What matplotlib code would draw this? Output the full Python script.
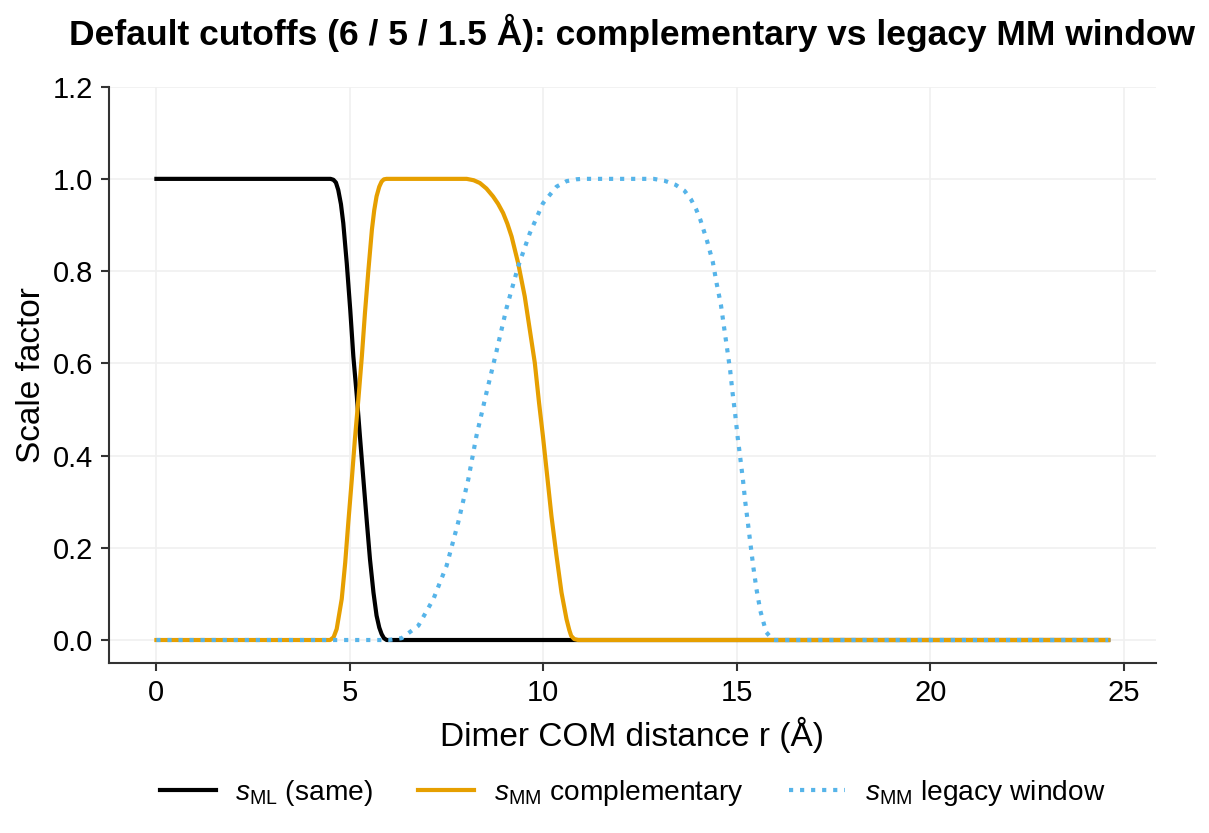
import matplotlib
matplotlib.use("Agg")
import matplotlib.pyplot as plt

plt.rcParams["font.family"] = ["Liberation Sans", "DejaVu Sans"]
plt.rcParams["mathtext.fontset"] = "custom"
plt.rcParams["mathtext.rm"] = "Liberation Sans"
plt.rcParams["mathtext.it"] = "Liberation Sans:italic"

# s_ML (same in both schemes)
r_ml = [0.0, 4.5, 4.575, 4.64, 4.70, 4.77, 4.83, 4.92, 5.01, 5.09, 5.18, 5.26, 5.35, 5.44,
        5.52, 5.61, 5.69, 5.76, 5.82, 5.88, 5.95, 24.6]
s_ml = [1.0, 1.0, 0.998, 0.992, 0.976, 0.945, 0.904, 0.817, 0.716, 0.615, 0.529, 0.442, 0.348, 0.255,
        0.175, 0.103, 0.053, 0.027, 0.013, 0.004, 0.0, 0.0]

# s_MM complementary
r_comp = [0.0, 4.49, 4.58, 4.66, 4.79, 4.88, 4.96, 5.05, 5.13, 5.22, 5.31, 5.39, 5.48,
          5.57, 5.63, 5.69, 5.76, 5.82, 5.88, 5.95,
          8.02, 8.2, 8.36, 8.53, 8.70, 8.83, 8.96, 9.07, 9.18, 9.35, 9.52, 9.65, 9.78, 9.89, 9.99,
          10.10, 10.21, 10.34, 10.47, 10.60, 10.67, 10.72, 10.8, 10.9, 24.6]
s_comp = [0.0, 0.0, 0.006, 0.024, 0.089, 0.168, 0.255, 0.348, 0.435, 0.522, 0.615, 0.709, 0.803,
          0.89, 0.932, 0.962, 0.983, 0.994, 0.999, 1.0,
          1.0, 0.997, 0.991, 0.979, 0.962, 0.946, 0.926, 0.903, 0.875, 0.817, 0.745, 0.673, 0.601, 0.514, 0.442,
          0.356, 0.269, 0.183, 0.103, 0.045, 0.022, 0.009, 0.002, 0.0, 0.0]

# s_MM legacy window
r_leg = [0.0, 6.0, 6.34, 6.77, 7.16, 7.5, 7.8, 8.06, 8.27, 8.53, 8.79, 9.05, 9.35,
         9.65, 9.99, 10.34, 10.6, 10.85, 11.0, 12.85, 13.13, 13.42, 13.65, 13.82, 13.95,
         14.06, 14.23, 14.38, 14.48, 14.59, 14.67, 14.75, 14.83, 14.89, 14.96, 15.02,
         15.09, 15.16, 15.22, 15.29, 15.36, 15.43, 15.51, 15.61, 15.76, 15.93, 16.0, 24.6]
s_leg = [0.0, 0.0, 0.004, 0.031, 0.089, 0.161, 0.255, 0.348, 0.442, 0.536, 0.626, 0.72, 0.81,
         0.882, 0.947, 0.983, 0.995, 0.999, 1.0, 1.0, 0.996, 0.987, 0.974, 0.955, 0.934,
         0.911, 0.866, 0.82, 0.773, 0.727, 0.679, 0.632, 0.584, 0.537, 0.489, 0.442,
         0.395, 0.347, 0.299, 0.252, 0.204, 0.157, 0.110, 0.063, 0.017, 0.001, 0.0, 0.0]

labels = [r"$s_{\mathrm{ML}}$ (same)", r"$s_{\mathrm{MM}}$ complementary",
          r"$s_{\mathrm{MM}}$ legacy window"]

fig, ax = plt.subplots(figsize=(1209 / 150, 833 / 150), dpi=150)
fig.subplots_adjust(left=0.090, right=0.956, top=0.896, bottom=0.204)

ax.plot(r_ml, s_ml, color="black", lw=2, label=labels[0])
ax.plot(r_comp, s_comp, color="#E69F00", lw=2, label=labels[1])
ax.plot(r_leg, s_leg, color="#56B4E9", lw=2, ls=":", label=labels[2])

ax.set_ylim(-0.05, 1.2)
ax.set_xticks([0, 5, 10, 15, 20, 25])
ax.set_yticks([0.0, 0.2, 0.4, 0.6, 0.8, 1.0, 1.2])
ax.grid(True, color="#f0f0f0", lw=0.8)
ax.set_axisbelow(True)

for side in ["top", "right"]:
    ax.spines[side].set_visible(False)
for side in ["left", "bottom"]:
    ax.spines[side].set_color("#333333")
    ax.spines[side].set_linewidth(1.0)
ax.tick_params(colors="#333333", labelcolor="black", labelsize=14, length=4, width=1.0)

ax.set_xlabel("Dimer COM distance r (Å)", fontsize=16, labelpad=5)
ax.set_ylabel("Scale factor", fontsize=16, labelpad=3)
ax.set_title("Default cutoffs (6 / 5 / 1.5 Å): complementary vs legacy MM window",
             fontsize=17, fontweight="bold", pad=20)

fig.legend(loc="center", bbox_to_anchor=(0.523, 0.048), ncol=3, frameon=False,
           fontsize=13.5, handlelength=2.0, handletextpad=0.7, columnspacing=1.6)

fig.savefig("out.png", dpi=150)
